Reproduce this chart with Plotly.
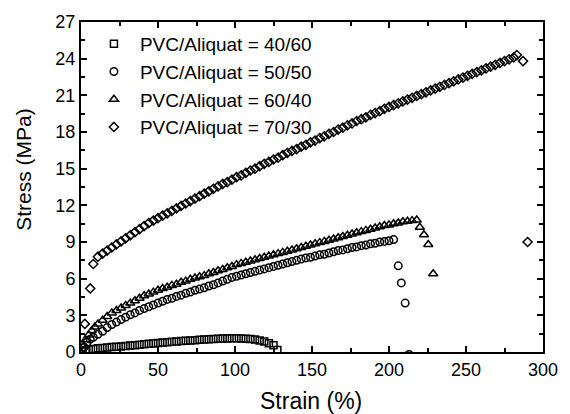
import plotly.graph_objects as go

# ---------------- data ----------------
# PVC/Aliquat = 40/60 (squares)
strain_4060 = [1, 3, 5, 8, 11, 14, 17, 20, 23, 26, 29, 32, 35, 38, 41, 44, 47, 50,
               53, 56, 59, 62, 65, 68, 71, 74, 77, 80, 83, 86, 89, 92, 95, 98,
               101, 104, 107, 110, 113, 116, 119, 122, 125, 127.5]
stress_4060 = [0.05, 0.15, 0.2, 0.25, 0.3, 0.33, 0.36, 0.4, 0.43, 0.46, 0.5, 0.53,
               0.56, 0.6, 0.63, 0.67, 0.7, 0.74, 0.77, 0.8, 0.83, 0.86, 0.89, 0.92,
               0.95, 0.97, 1.0, 1.02, 1.05, 1.07, 1.09, 1.1, 1.11, 1.12,
               1.12, 1.11, 1.09, 1.06, 1.02, 0.95, 0.85, 0.72, 0.55, 0.17]

# PVC/Aliquat = 50/50 (circles)
strain_5050 = [2, 4, 6, 8, 11, 14, 17, 20, 23, 26, 29, 32, 35, 38, 41, 44, 47, 50,
               53, 56, 59, 62, 65, 68, 71, 74, 77, 80, 83, 86, 89, 92, 95, 98,
               101, 104, 107, 110, 113, 116, 119, 122, 125, 128, 131, 134, 137, 140,
               143, 146, 149, 152, 155, 158, 161, 164, 167, 170, 173, 176, 179, 182,
               185, 188, 191, 194, 197, 200, 203, 206, 208, 210.5, 213]
stress_5050 = [0.4, 0.8, 1.05, 1.2, 1.45, 1.7, 2.0, 2.25, 2.45, 2.65, 2.85, 3.05,
               3.2, 3.4, 3.55, 3.7, 3.85, 4.0, 4.15, 4.3, 4.4, 4.55, 4.65, 4.8,
               4.9, 5.05, 5.15, 5.25, 5.4, 5.5, 5.65, 5.8, 5.95, 6.1,
               6.2, 6.3, 6.4, 6.5, 6.6, 6.7, 6.8, 6.9, 7.0, 7.1, 7.2, 7.3, 7.4, 7.5,
               7.6, 7.7, 7.75, 7.85, 7.95, 8.0, 8.1, 8.2, 8.3, 8.35, 8.45, 8.55, 8.6,
               8.7, 8.75, 8.85, 8.9, 9.0, 9.05, 9.1, 9.2, 7.05, 5.65, 4.0, -0.2]

# PVC/Aliquat = 60/40 (triangles)
strain_6040 = [3, 5, 7, 9, 11, 14, 17, 20, 23, 26, 29, 32, 35, 38, 41, 44, 47, 50,
               53, 56, 59, 62, 65, 68, 71, 74, 77, 80, 83, 86, 89, 92, 95, 98,
               101, 104, 107, 110, 113, 116, 119, 122, 125, 128, 131, 134, 137, 140,
               143, 146, 149, 152, 155, 158, 161, 164, 167, 170, 173, 176, 179, 182,
               185, 188, 191, 194, 197, 200, 203, 206, 209, 212, 215, 218,
               220, 222.7, 225.5, 228.7]
stress_6040 = [1.0, 1.4, 1.75, 2.05, 2.3, 2.6, 2.9, 3.2, 3.4, 3.6, 3.8, 4.0,
               4.2, 4.4, 4.6, 4.75, 4.9, 5.05, 5.2, 5.3, 5.45, 5.55, 5.7, 5.8,
               5.95, 6.05, 6.15, 6.25, 6.4, 6.5, 6.65, 6.75, 6.9, 7.0,
               7.15, 7.25, 7.35, 7.45, 7.55, 7.65, 7.75, 7.85, 7.95, 8.05, 8.15, 8.25,
               8.35, 8.45, 8.55, 8.65, 8.75, 8.85, 8.95, 9.05, 9.15, 9.25, 9.35, 9.45,
               9.55, 9.65, 9.75, 9.85, 9.95, 10.05, 10.15, 10.25, 10.35, 10.4, 10.5,
               10.55, 10.65, 10.7, 10.75, 10.8, 10.2, 9.6, 8.8, 6.4]

# PVC/Aliquat = 70/30 (diamonds)
strain_7030 = [2, 2.5, 6, 8, 11, 14, 17, 20, 23, 26, 29, 32, 35, 38, 41, 44, 47, 50,
               53, 56, 59, 62, 65, 68, 71, 74, 77, 80, 83, 86, 89, 92, 95, 98,
               101, 104, 107, 110, 113, 116, 119, 122, 125, 128, 131, 134, 137, 140,
               143, 146, 149, 152, 155, 158, 161, 164, 167, 170, 173, 176, 179, 182,
               185, 188, 191, 194, 197, 200, 203, 206, 209, 212, 215, 218, 221, 224,
               227, 230, 233, 236, 239, 242, 245, 248, 251, 254, 257, 260, 263, 266,
               269, 272, 275, 278, 281, 283, 287, 290]
stress_7030 = [0.4, 2.3, 5.2, 7.2, 7.8, 8.05, 8.3, 8.55, 8.8, 9.05, 9.3, 9.55,
               9.8, 10.05, 10.3, 10.55, 10.75, 10.95, 11.15, 11.35, 11.55, 11.75,
               11.95, 12.15, 12.35, 12.55, 12.75, 12.95, 13.15, 13.35, 13.55, 13.75,
               13.9, 14.1, 14.3, 14.45, 14.65, 14.85, 15.0, 15.2, 15.4, 15.55, 15.75,
               15.9, 16.1, 16.3, 16.45, 16.6, 16.8, 16.95, 17.15, 17.3, 17.5, 17.65,
               17.85, 18.0, 18.2, 18.35, 18.55, 18.7, 18.9, 19.05, 19.2, 19.4, 19.55,
               19.7, 19.9, 20.05, 20.2, 20.35, 20.5, 20.65, 20.8, 20.95, 21.1, 21.25,
               21.4, 21.55, 21.7, 21.85, 22.0, 22.15, 22.3, 22.45, 22.6, 22.75, 22.9,
               23.05, 23.2, 23.35, 23.5, 23.65, 23.8, 23.95, 24.1, 24.3, 23.8, 9.0]

series_names = ["PVC/Aliquat = 40/60", "PVC/Aliquat = 50/50",
                "PVC/Aliquat = 60/40", "PVC/Aliquat = 70/30"]

x_tickvals = [0, 50, 100, 150, 200, 250, 300]
y_tickvals = [0, 3, 6, 9, 12, 15, 18, 21, 24, 27]

# ---------------- figure ----------------
FONT = "Liberation Sans, Arial, sans-serif"
fig = go.Figure()

specs = [
    (strain_4060, stress_4060, "square-open", 7),
    (strain_5050, stress_5050, "circle-open", 7.5),
    (strain_6040, stress_6040, "triangle-up-open", 8),
    (strain_7030, stress_7030, "diamond-open", 7),
]
for (xs, ys, sym, sz), name in zip(specs, series_names):
    fig.add_trace(go.Scatter(
        x=xs, y=ys, mode="markers", name=name,
        marker=dict(symbol=sym, size=sz, color="black",
                    line=dict(color="black", width=1.5)),
    ))

axis_common = dict(
    showline=True, linecolor="black", linewidth=2, mirror="ticks",
    ticks="inside", ticklen=6, tickwidth=1.5, tickcolor="black",
    showgrid=False, zeroline=False,
    tickfont=dict(family=FONT, size=18, color="black"),
)

fig.update_xaxes(range=[0, 300], tickvals=x_tickvals,
                 minor=dict(dtick=25, ticks="inside", ticklen=4,
                            tickwidth=1.5, tickcolor="black"),
                 **axis_common)
fig.update_yaxes(range=[0, 27], tickvals=y_tickvals,
                 minor=dict(dtick=1.5, ticks="inside", ticklen=4,
                            tickwidth=1.5, tickcolor="black"),
                 **axis_common)

fig.add_annotation(text="Strain (%)", xref="paper", yref="paper",
                   x=0.498, y=-0.149, xanchor="center", yanchor="middle",
                   showarrow=False, font=dict(family=FONT, size=23, color="black"))
fig.add_annotation(text="Stress (MPa)", xref="paper", yref="paper",
                   x=-0.125, y=0.553, xanchor="center", yanchor="middle",
                   textangle=-90, showarrow=False,
                   font=dict(family=FONT, size=21, color="black"))

fig.update_layout(
    width=570, height=414,
    margin=dict(l=81, r=17, t=19, b=62),
    plot_bgcolor="white", paper_bgcolor="white",
    font=dict(family=FONT, color="black"),
    showlegend=True,
    legend=dict(x=0.015, y=0.991, xanchor="left", yanchor="top",
                itemwidth=42,
                bgcolor="rgba(0,0,0,0)", borderwidth=0,
                font=dict(family=FONT, size=19, color="black")),
)

fig.write_html("out.html",
               config={"displayModeBar": False},
               post_script="document.body.style.margin='0';"
                           "document.body.style.overflow='hidden';")
